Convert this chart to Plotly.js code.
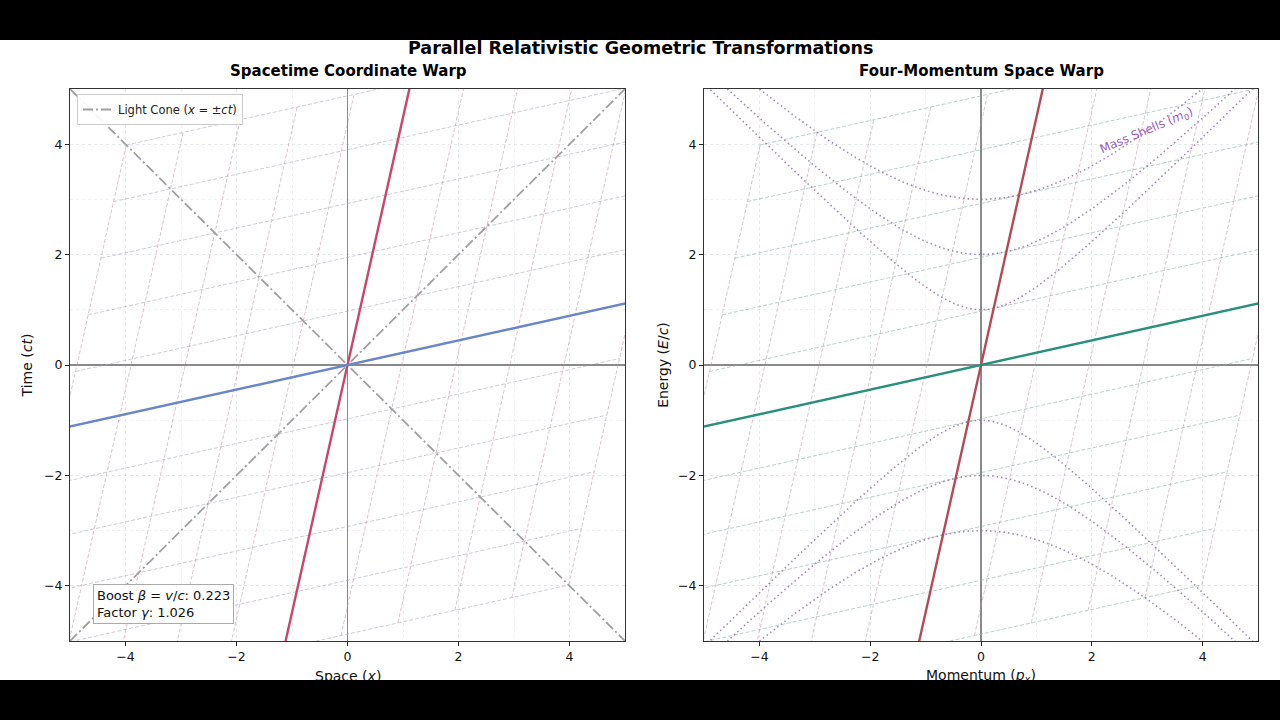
<!DOCTYPE html>
<html>
<head>
<meta charset="utf-8">
<script src="https://cdn.plot.ly/plotly-3.0.1.min.js"></script>
<style>
  html, body { margin:0; padding:0; background:#000; width:1280px; height:720px; overflow:hidden; }
  #chart { position:absolute; left:0; top:40px; width:1280px; height:640px; background:#fff; overflow:hidden; }
</style>
</head>
<body>
<div id="chart"></div>
<script>
// ---- data ----
const beta = 0.223;
const gamma = 1.026;
const gridIdx = [-5,-4,-3,-2,-1,0,1,2,3,4,5];
const paramEnds = [-5, 5];
const masses = [1, 2, 3];
const axisRange = [-5, 5];
const tickVals = [-4, -2, 0, 2, 4];
const tickText = ['\u22124', '\u22122', '0', '2', '4'];
const coneX = [-5, 5];
const momentumSamples = [];
for (let i = 0; i <= 200; i++) momentumSamples.push(-5 + i * 0.05);

// ---- helpers ----
function boost(xp, tp) { return [gamma * (xp + beta * tp), gamma * (tp + beta * xp)]; }

const traces = [];
function addGrid(xa, ya, steepColor, shallowColor) {
  gridIdx.forEach(n => {
    const a = boost(n, paramEnds[0]), b = boost(n, paramEnds[1]);
    traces.push({x:[a[0], b[0]], y:[a[1], b[1]], xaxis:xa, yaxis:ya, mode:'lines',
      line:{color:steepColor, width:1, dash:'4px,2px'}, showlegend:false, hoverinfo:'skip'});
    const c = boost(paramEnds[0], n), d = boost(paramEnds[1], n);
    traces.push({x:[c[0], d[0]], y:[c[1], d[1]], xaxis:xa, yaxis:ya, mode:'lines',
      line:{color:shallowColor, width:1, dash:'4px,2px'}, showlegend:false, hoverinfo:'skip'});
  });
}
function addAxes(xa, ya, timeColor, spaceColor) {
  const t0 = boost(0, axisRange[0]), t1 = boost(0, axisRange[1]);
  traces.push({x:[t0[0], t1[0]], y:[t0[1], t1[1]], xaxis:xa, yaxis:ya, mode:'lines',
    line:{color:timeColor, width:2.4}, showlegend:false, hoverinfo:'skip'});
  const s0 = boost(axisRange[0], 0), s1 = boost(axisRange[1], 0);
  traces.push({x:[s0[0], s1[0]], y:[s0[1], s1[1]], xaxis:xa, yaxis:ya, mode:'lines',
    line:{color:spaceColor, width:2.4}, showlegend:false, hoverinfo:'skip'});
}

// left panel
addGrid('x', 'y', 'rgba(195,140,160,0.55)', 'rgba(165,160,185,0.55)');
traces.push({x:coneX, y:coneX, xaxis:'x', yaxis:'y', mode:'lines',
  line:{color:'#a0a0a0', width:1.8, dash:'10px,3px,2px,3px'},
  name:'Light Cone (<i>x</i> = \u00b1<i>ct</i>)', showlegend:true, hoverinfo:'skip'});
traces.push({x:coneX, y:coneX.map(v => -v), xaxis:'x', yaxis:'y', mode:'lines',
  line:{color:'#a0a0a0', width:1.8, dash:'10px,3px,2px,3px'}, showlegend:false, hoverinfo:'skip'});
addAxes('x', 'y', '#c8466c', '#6a86c8');

// right panel
addGrid('x2', 'y2', 'rgba(180,150,170,0.55)', 'rgba(140,175,170,0.6)');
masses.forEach(m => {
  [1, -1].forEach(sgn => {
    traces.push({x:momentumSamples, y:momentumSamples.map(p => sgn * Math.sqrt(p*p + m*m)),
      xaxis:'x2', yaxis:'y2', mode:'lines',
      line:{color:'rgba(140,110,160,0.8)', width:1.6, dash:'1.5px,3px'},
      showlegend:false, hoverinfo:'skip'});
  });
});
addAxes('x2', 'y2', '#b04c55', '#2a8f7d');

const font = 'DejaVu Sans, Liberation Sans, sans-serif';
function axisCfg(domain, anchor, title, standoff) {
  const cfg = {
    domain: domain, anchor: anchor, range: axisRange, autorange:false,
    tickvals: tickVals, ticktext: tickText, ticks:'outside', ticklen:4, tickcolor:'#222',
    tickfont:{family:font, size:12.5, color:'#111'},
    showline:true, mirror:true, linecolor:'#333', linewidth:1,
    showgrid:true, gridcolor:'rgba(210,215,220,0.35)', griddash:'dot', gridwidth:1,
    minor:{dtick:1, tick0:0, showgrid:true, gridcolor:'rgba(210,215,220,0.35)', griddash:'dot', gridwidth:1},
    zeroline:true, zerolinecolor:'#8a8a8a', zerolinewidth:1.5,
    automargin:false, fixedrange:true
  };
  if (title) cfg.title = {text:title, font:{family:font, size:14, color:'#111'}, standoff:standoff};
  return cfg;
}

const layout = {
  width:1280, height:640,
  margin:{l:0, r:0, t:0, b:0},
  paper_bgcolor:'#ffffff', plot_bgcolor:'#ffffff',
  showlegend:true,
  legend:{x:77/1280, y:1-54/640, xanchor:'left', yanchor:'top',
    bgcolor:'rgba(255,255,255,0.9)', bordercolor:'#cccccc', borderwidth:1,
    font:{family:font, size:11.5, color:'#222'}, tracegroupgap:0, itemwidth:30},
  xaxis: axisCfg([70/1280, 625/1280], 'y', null, 0),
  yaxis: axisCfg([1-601/640, 1-49/640], 'x', 'Time (<i>ct</i>)', 8),
  xaxis2: axisCfg([704/1280, 1258/1280], 'y2', null, 0),
  yaxis2: axisCfg([1-601/640, 1-49/640], 'x2', 'Energy (<i>E</i>/<i>c</i>)', 6),
  annotations:[
    {text:'<b>Parallel Relativistic Geometric Transformations</b>', xref:'paper', yref:'paper',
      x:640/1280, y:1-8/640, xanchor:'center', yanchor:'middle', showarrow:false,
      font:{family:font, size:17.5, color:'#000'}},
    {text:'<b>Spacetime Coordinate Warp</b>', xref:'paper', yref:'paper',
      x:348/1280, y:1-31/640, xanchor:'center', yanchor:'middle', showarrow:false,
      font:{family:font, size:15, color:'#000'}},
    {text:'<b>Four-Momentum Space Warp</b>', xref:'paper', yref:'paper',
      x:981/1280, y:1-31/640, xanchor:'center', yanchor:'middle', showarrow:false,
      font:{family:font, size:15, color:'#000'}},
    {text:'Space (<i>x</i>)', xref:'paper', yref:'paper',
      x:348/1280, y:1-636/640, xanchor:'center', yanchor:'middle', showarrow:false,
      font:{family:font, size:14, color:'#111'}},
    {text:'Momentum (<i>p</i><sub><i>x</i></sub>)', xref:'paper', yref:'paper',
      x:981/1280, y:1-636/640, xanchor:'center', yanchor:'middle', showarrow:false,
      font:{family:font, size:14, color:'#111'}},
    {text:'Boost <i>\u03b2</i> = <i>v</i>/<i>c</i>: ' + beta.toFixed(3) + '<br>Factor <i>\u03b3</i>: ' + gamma.toFixed(3),
      xref:'paper', yref:'paper', x:93/1280, y:1-584/640, xanchor:'left', yanchor:'bottom',
      align:'left', showarrow:false, bgcolor:'rgba(255,255,255,0.92)', bordercolor:'#aaaaaa',
      borderwidth:1, borderpad:3, font:{family:font, size:13, color:'#111'}},
    {text:'Mass Shells (<i>m</i><sub>0</sub>)', xref:'x2', yref:'y2', x:3.0, y:4.23,
      textangle:-23, showarrow:false, font:{family:font, size:12, color:'#9b5fc0'}}
  ]
};

Plotly.newPlot('chart', traces, layout, {displayModeBar:false, staticPlot:true});
</script>
</body>
</html>
